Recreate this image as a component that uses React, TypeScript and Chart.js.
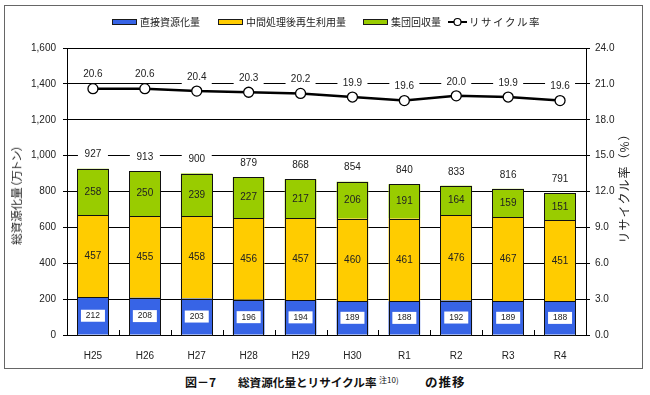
import React, { useEffect, useRef } from 'react';
import { Chart, registerables } from 'chart.js';

Chart.register(...registerables);

const categories = ['H25', 'H26', 'H27', 'H28', 'H29', 'H30', 'R1', 'R2', 'R3', 'R4'];
const directValues = [212, 208, 203, 196, 194, 189, 188, 192, 189, 188];
const intermediateValues = [457, 455, 458, 456, 457, 460, 461, 476, 467, 451];
const groupValues = [258, 250, 239, 227, 217, 206, 191, 164, 159, 151];
const totalValues = [927, 913, 900, 879, 868, 854, 840, 833, 816, 791];
const recycleRates = [20.6, 20.6, 20.4, 20.3, 20.2, 19.9, 19.6, 20.0, 19.9, 19.6];

const leftMin = 0;
const leftMax = 1600;
const leftStep = 200;
const rightMin = 0;
const rightMax = 24;
const rightStep = 3;

const seriesNames = ['直接資源化量', '中間処理後再生利用量', '集団回収量', 'リサイクル率'];
const leftTitle = '総資源化量（万トン）';
const rightTitle = 'リサイクル率（%）';

const BLUE = '#3764E6';
const YELLOW = '#FFCC00';
const GREEN = '#99CC00';
const TXT = '#222';
const NUM_FONT = '"Liberation Sans", Arial, "Noto Sans CJK JP", sans-serif';
const JP_FONT = '"Noto Sans CJK JP", "Liberation Sans", sans-serif';

function labelBox(ctx: CanvasRenderingContext2D, text: string, cx: number, cy: number, w: number, h: number, font: string) {
  ctx.fillStyle = '#fff';
  ctx.fillRect(cx - w / 2, cy - h / 2, w, h);
  ctx.fillStyle = TXT;
  ctx.font = font;
  ctx.textAlign = 'center';
  ctx.textBaseline = 'middle';
  ctx.fillText(text, cx, cy);
}

const overlayPlugin = {
  id: 'overlay',
  afterDatasetsDraw(chart: any) {
    const ctx: CanvasRenderingContext2D = chart.ctx;
    const area = chart.chartArea;
    const xs = chart.scales.x;
    ctx.save();
    ctx.strokeStyle = '#000';
    ctx.lineWidth = 1;
    for (let i = 1; i < categories.length; i++) {
      const px = Math.round((xs.getPixelForValue(i - 1) + xs.getPixelForValue(i)) / 2) + 0.5;
      ctx.beginPath();
      ctx.moveTo(px, area.bottom);
      ctx.lineTo(px, area.bottom - 5);
      ctx.stroke();
    }
    const blueMeta = chart.getDatasetMeta(0);
    const yellowMeta = chart.getDatasetMeta(1);
    const greenMeta = chart.getDatasetMeta(2);
    const lineMeta = chart.getDatasetMeta(3);
    // crisp outlines of every bar segment, from the elements' geometry
    ctx.strokeStyle = '#111';
    ctx.lineWidth = 1;
    [blueMeta, yellowMeta, greenMeta].forEach((meta: any) => {
      meta.data.forEach((el: any) => {
        const l = Math.round(el.x - el.width / 2) + 0.5;
        const r = Math.round(el.x + el.width / 2) - 0.5;
        const t = Math.round(el.y) + 0.5;
        const b = Math.round(el.base) + 0.5;
        ctx.strokeRect(l, t, r - l, b - t);
      });
    });
    blueMeta.data.forEach((el: any, i: number) => {
      const cy = (el.y + el.base) / 2;
      labelBox(ctx, String(directValues[i]), el.x, cy, 24, 12, `8.5px ${NUM_FONT}`);
    });
    ctx.textAlign = 'center';
    ctx.textBaseline = 'middle';
    yellowMeta.data.forEach((el: any, i: number) => {
      ctx.fillStyle = TXT;
      ctx.font = `10px ${NUM_FONT}`;
      ctx.fillText(String(intermediateValues[i]), el.x, (el.y + el.base) / 2);
    });
    greenMeta.data.forEach((el: any, i: number) => {
      ctx.fillStyle = TXT;
      ctx.font = `10px ${NUM_FONT}`;
      ctx.fillText(String(groupValues[i]), el.x, (el.y + el.base) / 2);
      labelBox(ctx, String(totalValues[i]), el.x, el.y - 14, 30, 14, `10px ${NUM_FONT}`);
    });
    lineMeta.data.forEach((el: any, i: number) => {
      labelBox(ctx, recycleRates[i].toFixed(1), el.x, el.y - 14, 30, 14, `10px ${NUM_FONT}`);
    });
    ctx.restore();
  },
  afterDraw(chart: any) {
    const ctx: CanvasRenderingContext2D = chart.ctx;
    const area = chart.chartArea;
    const midY = (area.top + area.bottom) / 2;
    ctx.save();
    ctx.fillStyle = TXT;
    ctx.textAlign = 'center';
    ctx.textBaseline = 'middle';
    ctx.save();
    ctx.font = `12px ${JP_FONT}`;
    (ctx as any).letterSpacing = '1px';
    ctx.translate(624, midY - 6);
    ctx.rotate(-Math.PI / 2);
    ctx.fillText(rightTitle, 0, 0);
    ctx.restore();

    // legend
    const ly = 22;
    const boxes = [
      { x: 112, color: BLUE, tx: 140 },
      { x: 218, color: YELLOW, tx: 246 },
      { x: 363, color: GREEN, tx: 391 },
    ];
    ctx.font = `10px ${JP_FONT}`;
    ctx.textAlign = 'left';
    boxes.forEach((b, i) => {
      ctx.fillStyle = b.color;
      ctx.fillRect(b.x, ly - 2.5, 24, 5);
      ctx.strokeStyle = '#1a1a1a';
      ctx.lineWidth = 1;
      ctx.strokeRect(b.x + 0.5, ly - 2.5, 24, 5);
      ctx.fillStyle = TXT;
      ctx.fillText(seriesNames[i], b.tx, ly);
    });
    ctx.strokeStyle = '#000';
    ctx.lineWidth = 2;
    ctx.beginPath();
    ctx.moveTo(448, ly);
    ctx.lineTo(467, ly);
    ctx.stroke();
    ctx.beginPath();
    ctx.arc(457.5, ly, 3.5, 0, Math.PI * 2);
    ctx.fillStyle = '#fff';
    ctx.fill();
    ctx.lineWidth = 1.2;
    ctx.stroke();
    ctx.fillStyle = TXT;
    ctx.font = `10.5px ${JP_FONT}`;
    (ctx as any).letterSpacing = '1.5px';
    ctx.fillText(seriesNames[3], 469, ly);
    (ctx as any).letterSpacing = '0px';
    ctx.restore();
  },
};

export default function App() {
  const canvasRef = useRef<HTMLCanvasElement | null>(null);

  useEffect(() => {
    if (!canvasRef.current) return;
    const barBase = {
      type: 'bar',
      borderWidth: 0,
      inflateAmount: 0,
      stack: 's',
      yAxisID: 'y',
      order: 2,
    };
    const chart = new Chart(canvasRef.current, {
      type: 'bar',
      data: {
        labels: categories,
        datasets: [
          { ...barBase, label: seriesNames[0], data: directValues, backgroundColor: BLUE },
          { ...barBase, label: seriesNames[1], data: intermediateValues, backgroundColor: YELLOW },
          { ...barBase, label: seriesNames[2], data: groupValues, backgroundColor: GREEN },
          {
            type: 'line',
            label: seriesNames[3],
            data: recycleRates,
            borderColor: '#000',
            borderWidth: 2.5,
            pointRadius: 5,
            pointBackgroundColor: '#fff',
            pointBorderColor: '#000',
            pointBorderWidth: 1.3,
            tension: 0,
            yAxisID: 'y2',
            order: 1,
          },
        ],
      },
      options: {
        responsive: false,
        devicePixelRatio: 1,
        animation: false,
        layout: { padding: { top: 48, left: 0, right: 0, bottom: 0 } },
        plugins: {
          legend: { display: false },
          tooltip: { enabled: false },
          title: { display: false },
        },
        datasets: {
          bar: { barPercentage: 0.61, categoryPercentage: 1 },
        },
        scales: {
          x: {
            stacked: true,
            grid: { display: false },
            border: { display: true, color: '#000', width: 1 },
            ticks: {
              color: TXT,
              font: { size: 10, family: NUM_FONT },
              padding: 7,
              maxRotation: 0,
            },
            afterFit: (s: any) => {
              s.height = 35;
            },
          },
          y: {
            stacked: true,
            position: 'left',
            min: leftMin,
            max: leftMax,
            grid: { color: '#000', lineWidth: 1, tickLength: 4, drawTicks: true },
            border: { display: true, color: '#000', width: 1 },
            ticks: {
              stepSize: leftStep,
              color: TXT,
              font: { size: 10, family: NUM_FONT },
              padding: 7,
              callback: (v: any) => Number(v).toLocaleString('en-US'),
            },
            afterFit: (s: any) => {
              s.width = 67;
            },
          },
          y2: {
            position: 'right',
            min: rightMin,
            max: rightMax,
            grid: { drawOnChartArea: false, color: '#000', tickLength: 4 },
            border: { display: true, color: '#000', width: 1 },
            ticks: {
              stepSize: rightStep,
              color: TXT,
              font: { size: 10, family: NUM_FONT },
              padding: 5,
              callback: (v: any) => Number(v).toFixed(1),
            },
            afterFit: (s: any) => {
              s.width = 64;
            },
          },
        },
      },
      plugins: [overlayPlugin],
    } as any);
    return () => chart.destroy();
  }, []);

  const cap = {
    position: 'absolute' as const,
    top: 373,
    whiteSpace: 'nowrap' as const,
    fontFamily: JP_FONT,
    fontWeight: 'bold' as const,
    lineHeight: '18px',
    color: '#111',
  };

  return (
    <div style={{ position: 'absolute', left: 0, top: 0, width: 650, height: 395, background: '#fff' }}>
      <div
        style={{
          position: 'absolute',
          left: 4,
          top: 5,
          width: 637,
          height: 362,
          border: '1.5px solid #666',
        }}
      />
      <canvas ref={canvasRef} width={650} height={370} style={{ position: 'absolute', left: 0, top: 0 }} />
      <div
        style={{
          position: 'absolute',
          left: 16,
          top: 195,
          transform: 'translate(-50%, -50%) rotate(-90deg)',
          whiteSpace: 'nowrap',
          fontFamily: JP_FONT,
          fontSize: 11.5,
          lineHeight: '14px',
          color: TXT,
          fontFeatureSettings: '"palt"',
        }}
      >
        {leftTitle}
      </div>
      <div style={{ ...cap, left: 185, fontSize: 12 }}>図－7</div>
      <div style={{ ...cap, left: 238, fontSize: 11.6 }}>総資源化量とリサイクル率</div>
      <div style={{ ...cap, left: 379, top: 371, fontSize: 8, fontWeight: 'normal' }}>注10)</div>
      <div style={{ ...cap, left: 425, fontSize: 12.5, letterSpacing: '1px' }}>の推移</div>
    </div>
  );
}
